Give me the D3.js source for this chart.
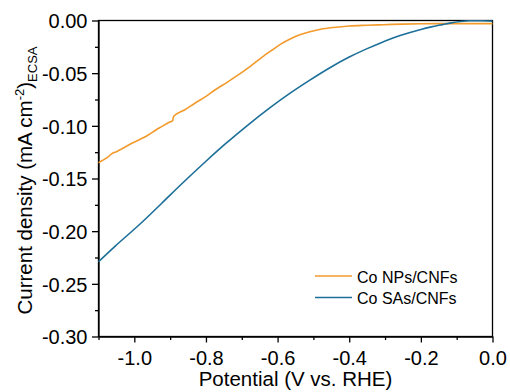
<!DOCTYPE html>
<html>
<head>
<meta charset="utf-8">
<script src="https://cdn.jsdelivr.net/npm/d3@7"></script>
<style>
  html, body { margin: 0; padding: 0; background: #fff; }
  svg { display: block; font-family: "Liberation Sans", Arial, sans-serif; }
</style>
</head>
<body>
<svg id="chart" width="510" height="392"></svg>
<script>
// LSV curves normalised by ECSA
const seriesNames = ["Co NPs/CNFs", "Co SAs/CNFs"];
const seriesColors = ["#f29a2c", "#1c6f98"];

const npPotential = [-1.100, -1.075, -1.060, -1.050, -1.030, -1.007, -0.985, -0.961, -0.940, -0.924,
  -0.905, -0.893, -0.890, -0.860, -0.831, -0.800, -0.775, -0.740, -0.710, -0.677,
  -0.644, -0.615, -0.590, -0.565, -0.540, -0.510, -0.480, -0.444, -0.400, -0.350,
  -0.305, -0.250, -0.200, -0.150, -0.100, 0.000];
const npCurrent = [-0.1350, -0.1300, -0.1258, -0.1245, -0.1210, -0.1166, -0.1130, -0.1087, -0.1040, -0.1008,
  -0.0970, -0.0950, -0.0910, -0.0850, -0.0786, -0.0720, -0.0660, -0.0585, -0.0517, -0.0438,
  -0.0350, -0.0280, -0.0222, -0.0176, -0.0138, -0.0106, -0.0083, -0.0066, -0.0052, -0.0045,
  -0.0040, -0.0034, -0.0031, -0.0030, -0.0030, -0.0030];

const saPotential = [-1.100, -1.054, -0.984, -0.924, -0.863, -0.800, -0.742, -0.700, -0.677, -0.620,
  -0.565, -0.510, -0.454, -0.400, -0.350, -0.314, -0.258, -0.200, -0.174, -0.140,
  -0.119, -0.090, -0.063, -0.030, 0.000];
const saCurrent = [-0.2290, -0.2144, -0.1932, -0.1737, -0.1536, -0.1336, -0.1160, -0.1040, -0.0976, -0.0825,
  -0.0690, -0.0566, -0.0448, -0.0347, -0.0267, -0.0215, -0.0143, -0.0085, -0.0063, -0.0039,
  -0.0025, -0.0010, -0.0003, -0.0002, -0.0006];

const xMajorTicks = [-1.0, -0.8, -0.6, -0.4, -0.2, 0.0];
const xMinorTicks = [-1.1, -0.9, -0.7, -0.5, -0.3, -0.1];
const yMajorTicks = [0.00, -0.05, -0.10, -0.15, -0.20, -0.25, -0.30];
const yMinorTicks = [-0.025, -0.075, -0.125, -0.175, -0.225, -0.275];

const svg = d3.select("#chart");
const plotLeft = 98.5, plotRight = 492.5, plotTop = 20.5, plotBottom = 336.5;

const x = d3.scaleLinear().domain([-1.1, 0]).range([plotLeft, plotRight]);
const y = d3.scaleLinear().domain([-0.30, 0]).range([plotBottom, plotTop]);

const tickFont = 20;

// axes
const xAxis = svg.append("g").attr("transform", `translate(0,${plotBottom})`)
  .call(d3.axisBottom(x).tickValues(xMajorTicks).tickSize(6).tickSizeOuter(0)
    .tickFormat(v => Math.abs(v) < 1e-9 ? "0.0" : v.toFixed(1)));
svg.append("g").attr("transform", `translate(0,${plotBottom})`)
  .call(d3.axisBottom(x).tickValues(xMinorTicks).tickSize(3.5).tickSizeOuter(0).tickFormat(""))
  .call(g => g.select(".domain").remove());

const yAxis = svg.append("g").attr("transform", `translate(${plotLeft},0)`)
  .call(d3.axisLeft(y).tickValues(yMajorTicks).tickSize(6.5).tickSizeOuter(0)
    .tickFormat(v => Math.abs(v) < 1e-9 ? "0.00" : v.toFixed(2)));
svg.append("g").attr("transform", `translate(${plotLeft},0)`)
  .call(d3.axisLeft(y).tickValues(yMinorTicks).tickSize(3.5).tickSizeOuter(0).tickFormat(""))
  .call(g => g.select(".domain").remove());

svg.selectAll(".tick line").attr("stroke", "#000").attr("stroke-width", 1.3);
svg.selectAll(".domain").attr("stroke", "#000").attr("stroke-width", 1.3);

xAxis.selectAll("text").attr("font-size", tickFont).attr("fill", "#000")
  .attr("font-family", "Liberation Sans, Arial, sans-serif").attr("dy", null).attr("y", 28.5);
yAxis.selectAll("text").attr("font-size", tickFont).attr("fill", "#000")
  .attr("font-family", "Liberation Sans, Arial, sans-serif").attr("x", -11).attr("dy", "0.36em");

// frame
svg.append("rect").attr("x", plotLeft).attr("y", plotTop)
  .attr("width", plotRight - plotLeft).attr("height", plotBottom - plotTop)
  .attr("fill", "none").attr("stroke", "#000").attr("stroke-width", 1.3);

// curves
const line = d3.line().curve(d3.curveMonotoneX).x(d => x(d[0])).y(d => y(d[1]));
const series = [
  d3.zip(npPotential, npCurrent),
  d3.zip(saPotential, saCurrent)
];
svg.append("g").selectAll("path").data(series).join("path")
  .attr("d", line).attr("fill", "none")
  .attr("stroke", (d, i) => seriesColors[i]).attr("stroke-width", 1.6)
  .attr("stroke-linejoin", "round");

// axis titles
svg.append("text").attr("x", (plotLeft + plotRight) / 2).attr("y", 386)
  .attr("text-anchor", "middle").attr("font-size", 20.5).attr("fill", "#000")
  .text("Potential (V vs. RHE)");

const yTitle = svg.append("text")
  .attr("transform", `translate(32,${(plotTop + plotBottom) / 2 + 2}) rotate(-90)`)
  .attr("text-anchor", "middle").attr("font-size", 20.5).attr("fill", "#000");
yTitle.append("tspan").text("Current density (mA cm");
yTitle.append("tspan").attr("font-size", 13).attr("dy", -8).text("-2");
yTitle.append("tspan").attr("dy", 8).text(")");
yTitle.append("tspan").attr("font-size", 13).attr("dy", 5).text("ECSA");

// legend
const legend = svg.append("g");
const legendRows = [276, 297.5];
seriesNames.forEach((name, i) => {
  legend.append("line").attr("x1", 315).attr("x2", 352)
    .attr("y1", legendRows[i]).attr("y2", legendRows[i])
    .attr("stroke", seriesColors[i]).attr("stroke-width", 1.6);
  legend.append("text").attr("x", 357).attr("y", legendRows[i] + 6.5)
    .attr("font-size", 16).attr("fill", "#000").text(name);
});
</script>
</body>
</html>
